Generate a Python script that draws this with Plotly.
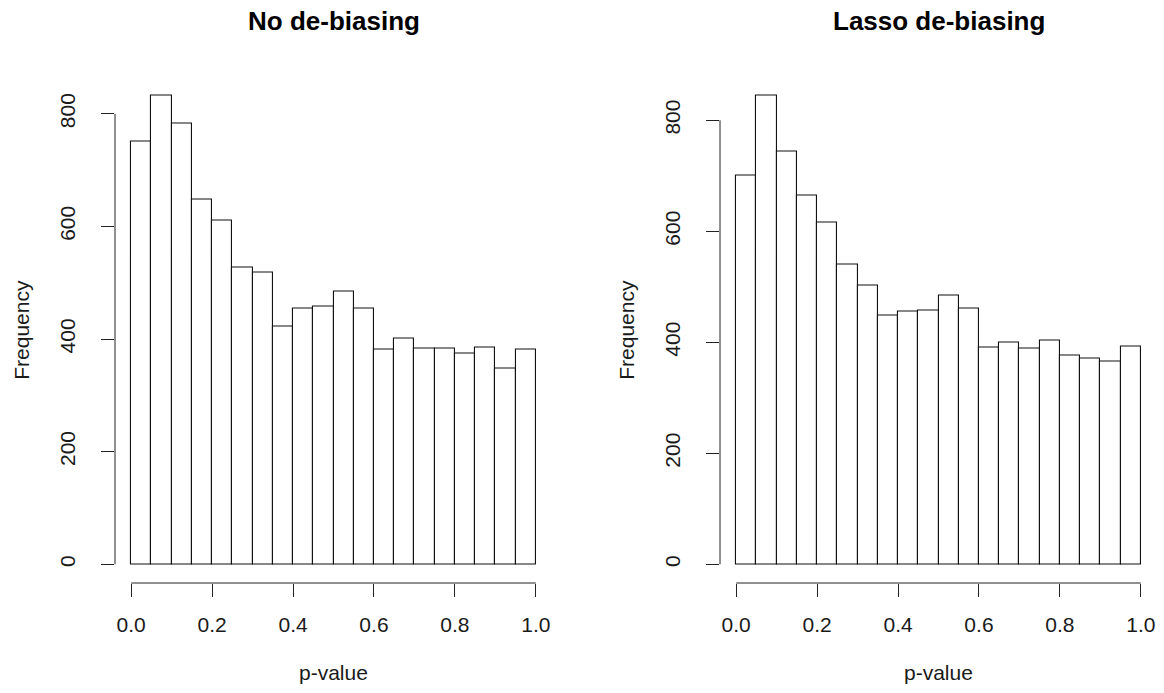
import plotly.graph_objects as go

# Histogram counts of p-values, 20 bins of width 0.05 over [0, 1]
bin_edges = [i * 0.05 for i in range(21)]
no_debias_counts = [751, 833, 782, 648, 611, 527, 518, 423, 454, 457,
                    484, 454, 382, 401, 383, 383, 374, 385, 347, 381]
lasso_debias_counts = [700, 845, 744, 664, 615, 540, 503, 448, 456, 457,
                       485, 461, 390, 399, 389, 404, 376, 371, 365, 392]

panel_titles = ["No de-biasing", "Lasso de-biasing"]
x_ticks = [0.0, 0.2, 0.4, 0.6, 0.8, 1.0]
x_tick_labels = ["0.0", "0.2", "0.4", "0.6", "0.8", "1.0"]
y_ticks = [0, 200, 400, 600, 800]
y_tick_labels = ["0", "200", "400", "600", "800"]

W, H = 1164, 693
FONT = "Liberation Sans, Arial, Helvetica, sans-serif"
TXT = "#1a1a1a"

# plot regions in pixels (left, right, top, bottom)
regions = [(115, 552, 76.5, 583), (720, 1157, 76.5, 583)]

fig = go.Figure()
shapes = []
annotations = []

centers = [(bin_edges[i] + bin_edges[i + 1]) / 2 for i in range(20)]
widths = [bin_edges[i + 1] - bin_edges[i] for i in range(20)]

for k, counts in enumerate([no_debias_counts, lasso_debias_counts]):
    xa = "x" if k == 0 else "x2"
    ya = "y" if k == 0 else "y2"
    xkey = "xaxis" if k == 0 else "xaxis2"
    ykey = "yaxis" if k == 0 else "yaxis2"
    l, r, t, b = regions[k]
    ymax = max(counts)

    fig.add_trace(go.Bar(
        x=centers, y=counts, width=widths, xaxis=xa, yaxis=ya,
        marker=dict(color="white", line=dict(color="#111111", width=1.1)),
        showlegend=False, hoverinfo="x+y",
    ))

    fig.update_layout(**{
        xkey: dict(
            domain=[l / W, r / W], range=[-0.04, 1.04],
            showgrid=False, zeroline=False, showline=False,
            tickmode="array", tickvals=x_ticks, ticktext=x_tick_labels,
            ticks="outside", ticklen=13, tickwidth=1, tickcolor="#222222",
            ticklabelstandoff=10,
            tickfont=dict(family=FONT, size=21, color=TXT),
            anchor=ya, fixedrange=True,
        ),
        ykey: dict(
            domain=[(H - b) / H, (H - t) / H],
            range=[-0.04 * ymax, 1.04 * ymax],
            showgrid=False, zeroline=False, showline=False,
            tickmode="array", tickvals=y_ticks, ticktext=y_tick_labels,
            ticks="outside", ticklen=13, tickwidth=1, tickcolor="#222222",
            tickangle=-90, ticklabelstandoff=18,
            tickfont=dict(family=FONT, size=21, color=TXT),
            anchor=xa, fixedrange=True,
        ),
    })

    # axis lines spanning only the tick range
    shapes.append(dict(type="line", xref=f"{xa} domain", yref=ya,
                       x0=0, x1=0, y0=y_ticks[0], y1=y_ticks[-1],
                       line=dict(color="#222222", width=1)))
    shapes.append(dict(type="line", xref=xa, yref=f"{ya} domain",
                       x0=x_ticks[0], x1=x_ticks[-1], y0=0, y1=0,
                       line=dict(color="#222222", width=1)))

    cx = (l + r) / 2 / W
    annotations.append(dict(text=f"<b>{panel_titles[k]}</b>", x=cx, y=(H - 21) / H,
                            xref="paper", yref="paper", showarrow=False,
                            xanchor="center", yanchor="middle",
                            font=dict(family=FONT, size=26, color="#000000")))
    annotations.append(dict(text="p-value", x=cx, y=(H - 672) / H,
                            xref="paper", yref="paper", showarrow=False,
                            xanchor="center", yanchor="middle",
                            font=dict(family=FONT, size=21, color=TXT)))
    annotations.append(dict(text="Frequency", x=(l - 93) / W, y=(H - (t + b) / 2) / H,
                            xref="paper", yref="paper", showarrow=False,
                            xanchor="center", yanchor="middle", textangle=-90,
                            font=dict(family=FONT, size=21, color=TXT)))

fig.update_layout(
    width=W, height=H,
    margin=dict(l=0, r=0, t=0, b=0),
    paper_bgcolor="white", plot_bgcolor="white",
    bargap=0, shapes=shapes, annotations=annotations,
)

fig.write_html("out.html", config={"displayModeBar": False})
